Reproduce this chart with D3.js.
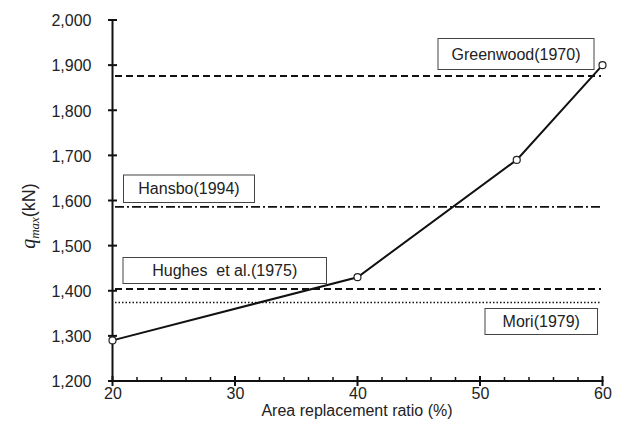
<!DOCTYPE html>
<html><head><meta charset="utf-8">
<script src="https://cdn.jsdelivr.net/npm/d3@7"></script>
<style>body{margin:0;background:#fff}svg{display:block}text{font-family:"Liberation Sans",Arial,sans-serif;fill:#222}</style>
</head><body><svg id="c" width="626" height="435"></svg>
<script>
const ratio = [20, 40, 53, 60];
const qmax = [1290, 1430, 1690, 1900];
const refNames = ["Greenwood(1970)", "Hansbo(1994)", "Hughes  et al.(1975)", "Mori(1979)"];
const refValues = [1876, 1586, 1404, 1374];
const refStyles = ["dashed", "dashdot", "dashed", "dotted"];
const xTicks = [20, 30, 40, 50, 60];
const yTicks = [1200, 1300, 1400, 1500, 1600, 1700, 1800, 1900, 2000];

const svg = d3.select("#c");
const x = d3.scaleLinear().domain([20, 60]).range([112.5, 602.5]);
const y = d3.scaleLinear().domain([1200, 2000]).range([381, 20]);
const fmt = d3.format(",");

// reference lines
const dashes = {dashed: "7,4", dashdot: "9,3,2,3", dotted: "1.5,2"};
const widths = {dashed: 2, dashdot: 1.8, dotted: 1.5};
refValues.forEach((v, i) => {
  svg.append("line").attr("x1", 115).attr("x2", 601)
    .attr("y1", y(v)).attr("y2", y(v))
    .attr("stroke", "#111").attr("stroke-width", widths[refStyles[i]])
    .attr("stroke-dasharray", dashes[refStyles[i]]);
});

// labels in boxes
const boxes = [
  {x0: 438, x1: 594, y0: 38.5, y1: 69.5},
  {x0: 123.5, x1: 254.5, y0: 175, y1: 202.5},
  {x0: 123, x1: 326.5, y0: 257.5, y1: 283.5},
  {x0: 485, x1: 597.5, y0: 308.5, y1: 334.5}
];
boxes.forEach((b, i) => {
  svg.append("rect").attr("x", b.x0).attr("y", b.y0)
    .attr("width", b.x1 - b.x0).attr("height", b.y1 - b.y0)
    .attr("fill", "#fff").attr("stroke", "#444").attr("stroke-width", 1);
  svg.append("text").attr("x", (b.x0 + b.x1) / 2).attr("y", (b.y0 + b.y1) / 2 + 5.5)
    .attr("text-anchor", "middle").attr("font-size", 16)
    .style("white-space", "pre").text(refNames[i]);
});

// axes
const xAxis = d3.axisBottom(x).tickValues(xTicks).tickSize(0).tickFormat(d => d);
const gx = svg.append("g").attr("transform", "translate(0,381)").call(xAxis);
gx.select(".domain").remove();
gx.selectAll("text").attr("font-size", 16).attr("dy", "0").attr("y", 18).attr("fill", "#222")
  .style("font-family", '"Liberation Sans",Arial,sans-serif');

const yAxis = d3.axisLeft(y).tickValues(yTicks).tickSize(0).tickFormat(fmt);
const gy = svg.append("g").attr("transform", "translate(112.5,0)").call(yAxis);
gy.select(".domain").remove();
gy.selectAll("text").attr("font-size", 16).attr("x", -21).attr("dy", "0.36em").attr("fill", "#222")
  .style("font-family", '"Liberation Sans",Arial,sans-serif');

// axis lines
svg.append("line").attr("x1", 112.5).attr("x2", 112.5).attr("y1", 19).attr("y2", 382)
  .attr("stroke", "#111").attr("stroke-width", 2);
svg.append("line").attr("x1", 111.5).attr("x2", 603.5).attr("y1", 381).attr("y2", 381)
  .attr("stroke", "#111").attr("stroke-width", 2);
// y ticks (cross)
yTicks.forEach(t => svg.append("line").attr("x1", 108).attr("x2", 117)
  .attr("y1", y(t)).attr("y2", y(t)).attr("stroke", "#111").attr("stroke-width", 2));
// x major ticks (cross)
xTicks.forEach(t => svg.append("line").attr("x1", x(t)).attr("x2", x(t))
  .attr("y1", 376).attr("y2", 386).attr("stroke", "#111").attr("stroke-width", 2));
// x minor ticks
d3.range(22, 60, 2).filter(t => t % 10 !== 0).forEach(t => svg.append("line")
  .attr("x1", x(t)).attr("x2", x(t)).attr("y1", 377).attr("y2", 381)
  .attr("stroke", "#111").attr("stroke-width", 1.5));

// data line
const pts = ratio.map((r, i) => [r, qmax[i]]);
svg.append("path").datum(pts)
  .attr("d", d3.line().x(d => x(d[0])).y(d => y(d[1])))
  .attr("fill", "none").attr("stroke", "#111").attr("stroke-width", 2);
svg.selectAll("circle.pt").data(pts).enter().append("circle")
  .attr("cx", d => x(d[0])).attr("cy", d => y(d[1])).attr("r", 3.5)
  .attr("fill", "#fff").attr("stroke", "#222").attr("stroke-width", 1.2);

// axis titles
svg.append("text").attr("x", 357).attr("y", 416).attr("text-anchor", "middle")
  .attr("font-size", 16).text("Area replacement ratio (%)");
const yt = svg.append("text").attr("transform", "translate(35,216) rotate(-90)")
  .attr("text-anchor", "middle");
yt.append("tspan").attr("font-style", "italic").attr("font-size", 20)
  .style("font-family", '"Liberation Serif",serif').text("q");
yt.append("tspan").attr("font-style", "italic").attr("font-size", 13).attr("dy", 4)
  .style("font-family", '"Liberation Serif",serif').text("max");
yt.append("tspan").attr("font-size", 18).attr("dy", -4).text("(kN)");
</script></body></html>
